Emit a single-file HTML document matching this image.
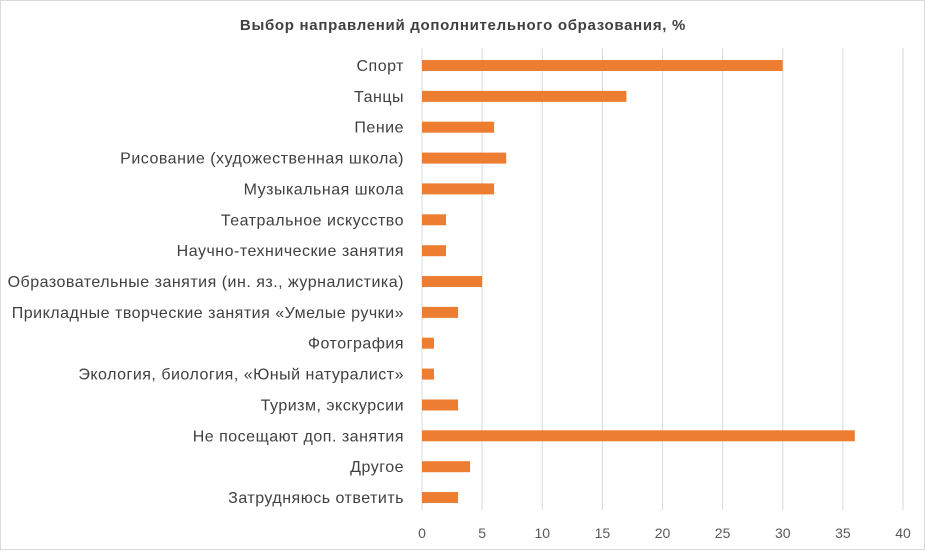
<!DOCTYPE html>
<html><head><meta charset="utf-8"><style>
body{margin:0;background:#fff;}
</style></head><body>
<svg width="926" height="551" xmlns="http://www.w3.org/2000/svg" font-family="'Liberation Sans', 'DejaVu Sans', sans-serif">
<rect x="0.5" y="0.5" width="924" height="549" fill="#fff" stroke="#d9d9d9"/>
<text x="463" y="30" text-anchor="middle" font-size="15" font-weight="bold" fill="#404040" letter-spacing="0.7">Выбор направлений дополнительного образования, %</text>
<g stroke="#d9d9d9" stroke-width="1">
<line x1="422" y1="48" x2="422" y2="510"/><line x1="482.1" y1="48" x2="482.1" y2="510"/><line x1="542.3" y1="48" x2="542.3" y2="510"/><line x1="602.4" y1="48" x2="602.4" y2="510"/><line x1="662.5" y1="48" x2="662.5" y2="510"/><line x1="722.6" y1="48" x2="722.6" y2="510"/><line x1="782.8" y1="48" x2="782.8" y2="510"/><line x1="842.9" y1="48" x2="842.9" y2="510"/><line x1="903" y1="48" x2="903" y2="510"/>
</g>
<g font-size="14" fill="#595959" text-anchor="middle">
<text x="422" y="538">0</text><text x="482.1" y="538">5</text><text x="542.3" y="538">10</text><text x="602.4" y="538">15</text><text x="662.5" y="538">20</text><text x="722.6" y="538">25</text><text x="782.8" y="538">30</text><text x="842.9" y="538">35</text><text x="903" y="538">40</text>
</g>
<g fill="#ed7d31">
<rect x="422" y="60" width="360.7" height="11"/>
<rect x="422" y="90.9" width="204.4" height="11"/>
<rect x="422" y="121.7" width="72.1" height="11"/>
<rect x="422" y="152.6" width="84.2" height="11"/>
<rect x="422" y="183.4" width="72.1" height="11"/>
<rect x="422" y="214.3" width="24" height="11"/>
<rect x="422" y="245.2" width="24" height="11"/>
<rect x="422" y="276" width="60.1" height="11"/>
<rect x="422" y="306.9" width="36.1" height="11"/>
<rect x="422" y="337.7" width="12" height="11"/>
<rect x="422" y="368.6" width="12" height="11"/>
<rect x="422" y="399.5" width="36.1" height="11"/>
<rect x="422" y="430.3" width="432.8" height="11"/>
<rect x="422" y="461.2" width="48.1" height="11"/>
<rect x="422" y="492" width="36.1" height="11"/>
</g>
<g font-size="16" fill="#404040" text-anchor="end" letter-spacing="0.5">
<text x="404" y="71">Спорт</text>
<text x="404" y="101.9">Танцы</text>
<text x="404" y="132.7">Пение</text>
<text x="404" y="163.6">Рисование (художественная школа)</text>
<text x="404" y="194.4">Музыкальная школа</text>
<text x="404" y="225.3">Театральное искусство</text>
<text x="404" y="256.2">Научно-технические занятия</text>
<text x="404" y="287">Образовательные занятия (ин. яз., журналистика)</text>
<text x="404" y="317.9">Прикладные творческие занятия «Умелые ручки»</text>
<text x="404" y="348.7">Фотография</text>
<text x="404" y="379.6">Экология, биология, «Юный натуралист»</text>
<text x="404" y="410.5">Туризм, экскурсии</text>
<text x="404" y="441.3">Не посещают доп. занятия</text>
<text x="404" y="472.2">Другое</text>
<text x="404" y="503">Затрудняюсь ответить</text>
</g>
</svg>
</body></html>
